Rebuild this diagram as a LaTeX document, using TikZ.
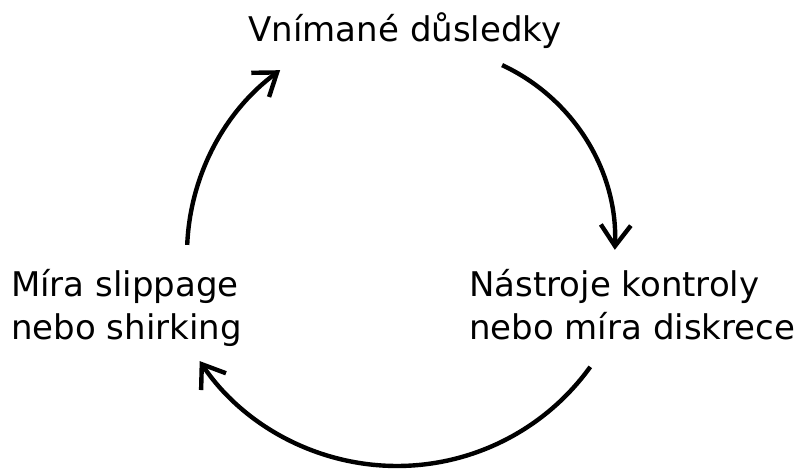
\documentclass[tikz,border=0pt]{standalone}
\usepackage{fontspec}
\setmainfont{DejaVu Sans}
\usetikzlibrary{arrows.meta,calc}
\tikzset{
  lbl/.style={inner sep=0pt, font=\fontsize{34}{43}\selectfont, align=left},
  arr/.style={line width=4.4pt, -{Straight Barb[length=21pt,width=30pt]}},
}
\begin{document}
\begin{tikzpicture}[x=1pt,y=1pt]
\useasboundingbox (0,0) rectangle (796,471);
\node[lbl, anchor=base] (top) at (405,429) {Vnímané důsledky};
\node[lbl, anchor=base west] (left) at (11,131) {Míra slippage\\nebo shirking};
\node[lbl, anchor=base west] (right) at (469,131) {Nástroje kontroly\\nebo míra diskrece};
\coordinate (cL) at (416,216.5);
\coordinate (cR) at (420,229);
\coordinate (cB) at (397,243);
\draw[arr] ($(cL)+(177.6:229)$) arc[start angle=177.6, end angle=126.4, radius=229];
\draw[arr] ($(cR)+(65.1:195)$) arc[start angle=65.1, end angle=-2.3, radius=195];
\draw[arr] ($(cB)+(-35.7:238)$) arc[start angle=-35.7, end angle=-146, radius=238];
\end{tikzpicture}
\end{document}
